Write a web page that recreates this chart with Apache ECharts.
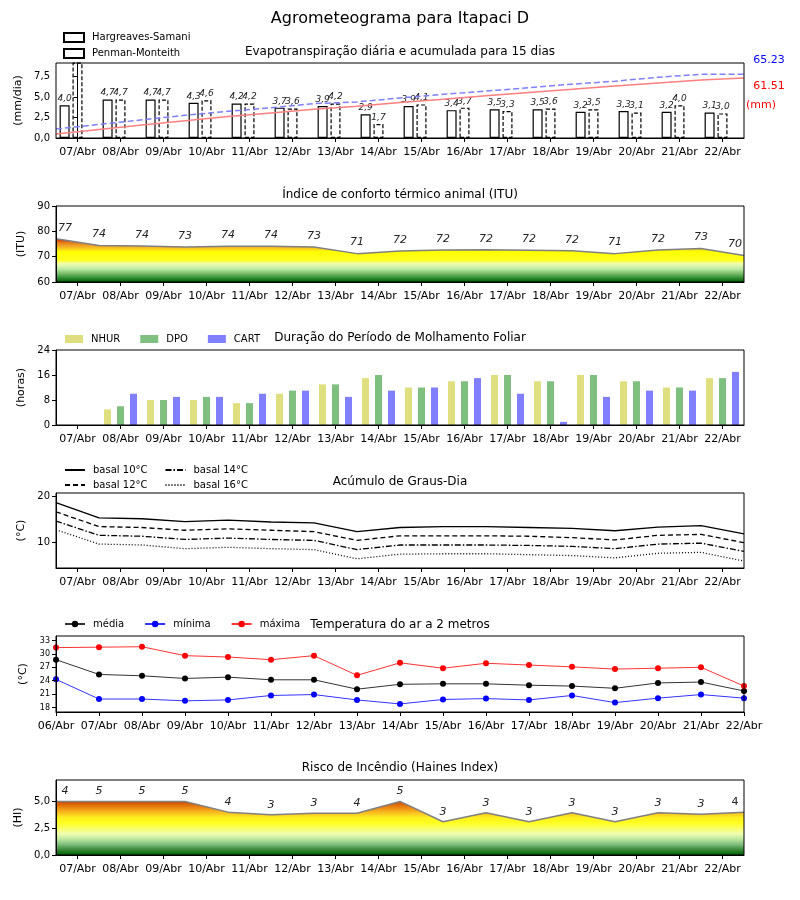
<!DOCTYPE html>
<html><head><meta charset="utf-8">
<script src="https://cdn.jsdelivr.net/npm/echarts@6/dist/echarts.min.js"></script>
<style>html,body{margin:0;padding:0;background:#fff}#c{width:800px;height:900px}</style>
</head><body><div id="c"></div>
<script>
// ---------- DATA ----------
const days16 = ['07/Abr','08/Abr','09/Abr','10/Abr','11/Abr','12/Abr','13/Abr','14/Abr','15/Abr','16/Abr','17/Abr','18/Abr','19/Abr','20/Abr','21/Abr','22/Abr'];
const days17 = ['06/Abr','07/Abr','08/Abr','09/Abr','10/Abr','11/Abr','12/Abr','13/Abr','14/Abr','15/Abr','16/Abr','17/Abr','18/Abr','19/Abr','20/Abr','21/Abr','22/Abr'];

const etHargreaves = [4.0,4.7,4.7,4.3,4.2,3.7,3.9,2.9,3.9,3.4,3.5,3.5,3.2,3.3,3.2,3.1];
const etPenman     = [9.2,4.7,4.7,4.6,4.2,3.6,4.2,1.7,4.1,3.7,3.3,3.6,3.5,3.1,4.0,3.0];
const etPenmanCum     = [9.2,13.9,18.6,23.2,27.4,31.0,35.2,36.9,41.0,44.7,48.0,51.6,55.1,58.2,62.2,65.2,65.23];
const etHargreavesCum = [4.0,8.7,13.4,17.7,21.9,25.6,29.5,32.4,36.3,39.7,43.2,46.7,49.9,53.2,56.4,59.5,61.51];
const etTotals = ['65.23','61.51'];

const itu       = [77.1,74.4,74.2,73.8,74.1,74.1,73.8,71.2,72.2,72.6,72.7,72.5,72.3,71.2,72.6,73.2,70.5];
const ituLabels = ['77','74','74','73','74','74','73','71','72','72','72','72','72','71','72','73','70'];

const wetNHUR = [0,5,8,8,7,10,13,15,12,14,16,14,16,14,12,15];
const wetDPO  = [0,6,8,9,7,11,13,16,12,14,16,14,16,14,12,15];
const wetCART = [0,10,9,9,10,11,9,11,12,15,10,1,9,11,11,17];

const gd10 = [18.6,15.3,15.1,14.5,14.8,14.4,14.2,12.3,13.2,13.4,13.4,13.2,13.0,12.5,13.3,13.6,11.8];
const gd12 = [16.6,13.4,13.2,12.6,12.9,12.6,12.3,10.4,11.4,11.4,11.4,11.3,11.0,10.5,11.5,11.7,9.9];
const gd14 = [14.6,11.5,11.3,10.6,10.9,10.6,10.4,8.4,9.4,9.4,9.4,9.3,9.1,8.6,9.6,9.8,8.0];
const gd16 = [12.7,9.6,9.4,8.6,8.9,8.6,8.4,6.4,7.4,7.5,7.5,7.3,7.1,6.6,7.6,7.8,5.9];

const tMedia  = [28.7,25.4,25.1,24.5,24.8,24.2,24.2,22.1,23.2,23.3,23.3,23.0,22.8,22.3,23.5,23.7,21.7];
const tMinima = [24.3,19.9,19.9,19.5,19.7,20.7,20.9,19.7,18.8,19.8,20.0,19.7,20.7,19.1,20.1,20.9,20.1];
const tMaxima = [31.4,31.5,31.6,29.6,29.3,28.7,29.6,25.2,28.0,26.8,27.9,27.5,27.1,26.6,26.8,27.0,22.8];
const tTicks  = [18,21,24,27,30,33];

const haines       = [5.0,5.0,5.0,5.0,4.0,3.75,3.9,3.9,5.0,3.1,3.95,3.1,3.95,3.1,3.95,3.8,4.0];
const hainesLabels = ['4','5','5','5','4','3','3','4','5','3','3','3','3','3','3','3','4'];

// ---------- HELPERS ----------
const FONT = 'DejaVu Sans';
const comma = (v, d) => v.toFixed(d).replace('.', ',');
const G = [
  {top:63,height:75},{top:206,height:76},{top:350,height:75},
  {top:493,height:75},{top:636,height:76},{top:780,height:75}
].map(g => Object.assign(g, {left:56, right:56, show:true, borderColor:'#000', borderWidth:1, backgroundColor:'transparent', z:10}));

function xVis(gi, data, bg) {
  return {type:'category', gridIndex:gi, data, boundaryGap:bg, z:6,
    axisLine:{show:true, lineStyle:{color:'#000'}},
    axisTick:{show:true, alignWithLabel:true, length:4, lineStyle:{color:'#000'}},
    axisLabel:{interval:0, fontSize:11, color:'#000', fontFamily:FONT, margin:9},
    splitLine:{show:false}};
}
function xHid(gi, data) { return {type:'category', gridIndex:gi, data, boundaryGap:false, show:false}; }
function xVal(gi, min, max) { return {type:'value', gridIndex:gi, min, max, show:false}; }
function yVis(gi, o) {
  return Object.assign({type:'value', gridIndex:gi, z:6,
    axisLine:{show:true, lineStyle:{color:'#000'}},
    axisTick:{show:true, length:4, lineStyle:{color:'#000'}},
    axisLabel:{fontSize:10, color:'#000', fontFamily:FONT, margin:6},
    splitLine:{show:false}, nameLocation:'middle', nameRotate:90,
    nameTextStyle:{fontSize:11, color:'#000', fontFamily:FONT}}, o);
}
function grad(top, bottom, stops) {
  return {type:'linear', x:0, y:top, x2:0, y2:bottom, global:true,
    colorStops: stops.map(s => ({offset:s[0], color:s[1]}))};
}
const edgeLabel = (arr, extra) => arr.map((v, i) => {
  const n = arr.length;
  const lab = Object.assign({}, extra && extra(i));
  if (i === 0) lab.offset = [9, 0];
  if (i === n - 1) lab.offset = [-9, 0];
  return {value: v, label: lab};
});
const legText = {fontSize:10, color:'#000', fontFamily:FONT, padding:[0,0,0,3]};
const titleStyle = {fontSize:12, fontWeight:'normal', color:'#000', fontFamily:FONT};

const ET_MAX = 9.15;

const option = {
  animation:false,
  backgroundColor:'#fff',
  textStyle:{fontFamily:FONT},
  title:[
    {text:'Agrometeograma para Itapaci D', left:'center', top:6, textStyle:{fontSize:16, fontWeight:'normal', color:'#000', fontFamily:FONT}},
    {text:'Evapotranspiração diária e acumulada para 15 dias', left:'center', top:41, textStyle:titleStyle},
    {text:'Índice de conforto térmico animal (ITU)', left:'center', top:184, textStyle:titleStyle},
    {text:'Duração do Período de Molhamento Foliar', left:'center', top:327, textStyle:titleStyle},
    {text:'Acúmulo de Graus-Dia', left:'center', top:471, textStyle:titleStyle},
    {text:'Temperatura do ar a 2 metros', left:'center', top:614, textStyle:titleStyle},
    {text:'Risco de Incêndio (Haines Index)', left:'center', top:757, textStyle:titleStyle}
  ],
  legend:[
    {data:['Hargreaves-Samani','Penman-Monteith'], orient:'vertical', left:58, top:27, itemWidth:20, itemHeight:9, itemGap:5, icon:'rect',
      textStyle:legText},
    {data:['NHUR','DPO','CART'], left:60, top:329, itemWidth:18, itemHeight:8, itemGap:20, icon:'rect',
      textStyle:legText},
    {data:['basal 10°C','basal 14°C'], left:59, top:460, itemWidth:20, itemHeight:8, itemGap:17,
      itemStyle:{opacity:0}, textStyle:legText},
    {data:['basal 12°C','basal 16°C'], left:59, top:475, itemWidth:20, itemHeight:8, itemGap:17,
      itemStyle:{opacity:0}, textStyle:legText},
    {data:['média','mínima','máxima'], left:59, top:614, itemWidth:20, itemHeight:8, itemGap:20,
      textStyle:legText}
  ],
  grid:G,
  xAxis:[
    xVis(0, days16, true),   //0
    xVal(0, -0.5, 15.5),     //1
    xVal(0, -0.5, 15.5),     //2
    xHid(0, days17),         //3
    xVis(1, days16, true),   //4
    xHid(1, days17),         //5
    xVis(2, days16, true),   //6
    xVis(3, days16, true),   //7
    xHid(3, days17),         //8
    xVis(4, days17, false),  //9
    xVis(5, days16, true),   //10
    xHid(5, days17)          //11
  ],
  yAxis:[
    yVis(0, {min:0, max:ET_MAX, interval:2.5, name:'(mm/dia)', nameGap:32,
      axisLabel:{fontSize:10, color:'#000', fontFamily:FONT, margin:6, showMaxLabel:false, formatter:v=>comma(v,1)}}),
    {type:'value', gridIndex:0, min:0, max:76.8, show:false},
    yVis(1, {min:60, max:90, interval:10, name:'(ITU)', nameGap:26}),
    yVis(2, {min:0, max:24, interval:8, name:'(horas)', nameGap:26}),
    yVis(3, {min:4.4, max:20.7, name:'(°C)', nameGap:26,
      axisTick:{show:true, length:4, lineStyle:{color:'#000'}, customValues:[10,20]},
      axisLabel:{fontSize:10, color:'#000', fontFamily:FONT, margin:6, customValues:[10,20]}}),
    yVis(4, {min:17, max:34, name:'(°C)', nameGap:26,
      axisTick:{show:true, length:4, lineStyle:{color:'#000'}, customValues:tTicks},
      axisLabel:{fontSize:8, color:'#000', fontFamily:FONT, margin:6, customValues:tTicks}}),
    yVis(5, {min:0, max:7, interval:2.5, name:'(HI)', nameGap:32,
      axisLabel:{fontSize:10, color:'#000', fontFamily:FONT, margin:6, showMaxLabel:false, formatter:v=>comma(v,1)}})
  ],
  graphic:[
    {type:'text', x:769, y:60, style:{text:etTotals[0], fill:'#0000ff', fontSize:11, fontFamily:FONT, align:'center', verticalAlign:'middle'}},
    {type:'text', x:769, y:86, style:{text:etTotals[1], fill:'#ff0000', fontSize:11, fontFamily:FONT, align:'center', verticalAlign:'middle'}},
    {type:'text', x:761, y:105, style:{text:'(mm)', fill:'#ff0000', fontSize:11, fontFamily:FONT, align:'center', verticalAlign:'middle'}}
  ],
  series:[
    // ET bars
    {type:'bar', name:'Hargreaves-Samani', xAxisIndex:1, yAxisIndex:0, barWidth:10,
      data: etHargreaves.map((v,i)=>[i-0.3, v]),
      itemStyle:{color:'#fff', borderColor:'#000', borderWidth:1.2},
      label:{show:true, position:'top', distance:2, fontSize:9, fontStyle:'italic', color:'#222', fontFamily:FONT, formatter:p=>comma(p.value[1],1)}},
    {type:'bar', name:'Penman-Monteith', xAxisIndex:2, yAxisIndex:0, barWidth:10,
      data: etPenman.map((v,i)=> v > ET_MAX ? {value:[i, v], label:{show:false}} : [i, v]),
      itemStyle:{color:'#fff', borderColor:'#000', borderWidth:1.2, borderType:[4,2]},
      label:{show:true, position:'top', distance:2, fontSize:9, fontStyle:'italic', color:'#222', fontFamily:FONT, formatter:p=>comma(p.value[1],1)}},
    {type:'line', name:'cumPM', xAxisIndex:3, yAxisIndex:1, data:etPenmanCum, symbol:'none', z:8,
      lineStyle:{color:'#7f7fff', width:1.5, type:[6,3]}},
    {type:'line', name:'cumHS', xAxisIndex:3, yAxisIndex:1, data:etHargreavesCum, symbol:'none', z:8,
      lineStyle:{color:'#ff7f7f', width:1.5}},
    // ITU
    {type:'line', name:'ITU', xAxisIndex:5, yAxisIndex:2, data: edgeLabel(itu),
      symbol:'circle', symbolSize:1, showSymbol:true, itemStyle:{color:'rgba(0,0,0,0)'},
      lineStyle:{color:'#808080', width:1.5},
      areaStyle:{origin:'start', opacity:1, color: grad(206, 282, [
        [0.0,'#cc0000'],[0.43,'#d40000'],[0.455,'#dc4a08'],[0.477,'#e07818'],[0.52,'#f0a028'],
        [0.563,'#f8cc20'],[0.6,'#ffff00'],[0.717,'#ffff20'],[0.75,'#f4ffa0'],[0.783,'#e0f8b0'],
        [0.833,'#b8e8a0'],[0.883,'#80c070'],[0.933,'#409a40'],[1.0,'#005a00']])},
      label:{show:true, position:'top', distance:5, fontSize:11, fontStyle:'italic', color:'#222', fontFamily:FONT,
        formatter:p=>ituLabels[p.dataIndex]}},
    // Wetness
    {type:'bar', name:'NHUR', xAxisIndex:6, yAxisIndex:3, data:wetNHUR, barWidth:7, barGap:'86%', itemStyle:{color:'#dfdf7f'}},
    {type:'bar', name:'DPO',  xAxisIndex:6, yAxisIndex:3, data:wetDPO,  barWidth:7, barGap:'86%', itemStyle:{color:'#7fbf7f'}},
    {type:'bar', name:'CART', xAxisIndex:6, yAxisIndex:3, data:wetCART, barWidth:7, barGap:'86%', itemStyle:{color:'#7f7fff'}},
    // Degree days
    {type:'line', name:'basal 10°C', xAxisIndex:8, yAxisIndex:4, data:gd10, symbol:'none', lineStyle:{color:'#000', width:1.3}, itemStyle:{color:'#000'}},
    {type:'line', name:'basal 12°C', xAxisIndex:8, yAxisIndex:4, data:gd12, symbol:'none', lineStyle:{color:'#000', width:1.3, type:[5,3]}, itemStyle:{color:'#000'}},
    {type:'line', name:'basal 14°C', xAxisIndex:8, yAxisIndex:4, data:gd14, symbol:'none', lineStyle:{color:'#000', width:1.3, type:[6,2,1.5,2]}, itemStyle:{color:'#000'}},
    {type:'line', name:'basal 16°C', xAxisIndex:8, yAxisIndex:4, data:gd16, symbol:'none', lineStyle:{color:'#000', width:1.3, type:[1,2]}, itemStyle:{color:'#000'}},
    // Temperature
    {type:'line', name:'média',  xAxisIndex:9, yAxisIndex:5, data:tMedia,  symbol:'circle', symbolSize:6, lineStyle:{color:'#333', width:1}, itemStyle:{color:'#000'}},
    {type:'line', name:'mínima', xAxisIndex:9, yAxisIndex:5, data:tMinima, symbol:'circle', symbolSize:6, lineStyle:{color:'#3333ff', width:1}, itemStyle:{color:'#0000ff'}},
    {type:'line', name:'máxima', xAxisIndex:9, yAxisIndex:5, data:tMaxima, symbol:'circle', symbolSize:6, lineStyle:{color:'#ff3333', width:1}, itemStyle:{color:'#ff0000'}},
    // Haines
    {type:'line', name:'Haines', xAxisIndex:11, yAxisIndex:6, data: edgeLabel(haines, i => i === haines.length-1 ? {fontStyle:'normal'} : {}),
      symbol:'circle', symbolSize:1, showSymbol:true, itemStyle:{color:'rgba(0,0,0,0)'},
      lineStyle:{color:'#808080', width:1.5},
      areaStyle:{origin:'start', opacity:1, color: grad(780, 855, [
        [0.0,'#c03000'],[0.286,'#d04800'],[0.357,'#e88010'],[0.429,'#f8b820'],[0.5,'#ffee20'],
        [0.571,'#ffff20'],[0.643,'#fafe60'],[0.714,'#f0ffb0'],[0.786,'#c0e8a0'],[0.857,'#80c080'],
        [0.929,'#3a8a3a'],[1.0,'#006000']])},
      label:{show:true, position:'top', distance:4, fontSize:11, fontStyle:'italic', color:'#222', fontFamily:FONT,
        formatter:p=>hainesLabels[p.dataIndex]}}
  ]
};
const chart = echarts.init(document.getElementById('c'), null, {renderer:'canvas'});
chart.setOption(option);
</script>
</body></html>
